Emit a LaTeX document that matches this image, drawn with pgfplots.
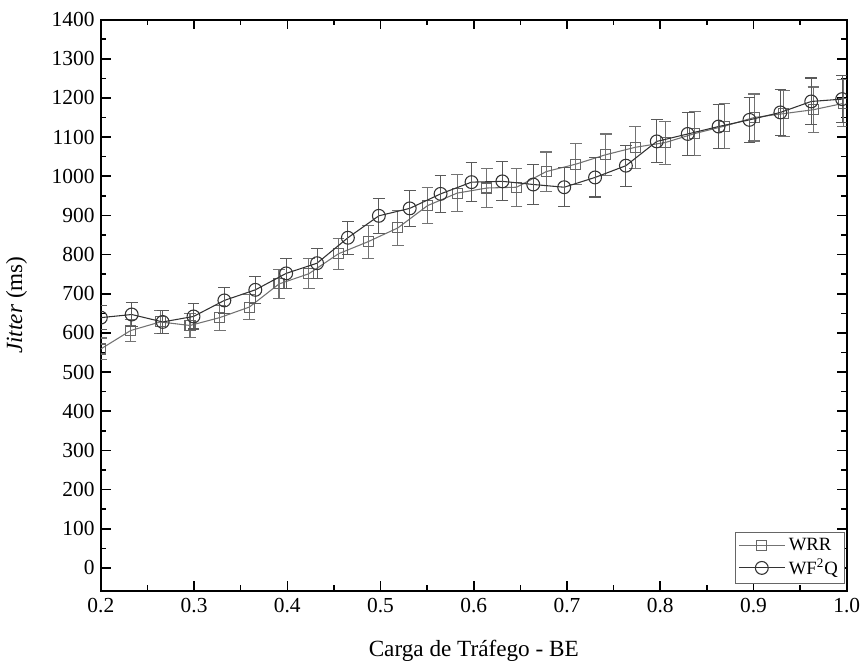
\documentclass[border=0pt]{standalone}
\usepackage{fontspec}
\setmainfont{Liberation Serif}
\usepackage{pgfplots}
\pgfplotsset{compat=1.18}
\usepackage{pgfplotstable}

% WRR: x, jitter, half error
\pgfplotstableread{
x y e
0.2000 559 28
0.2319 606 28
0.2637 628 30
0.2956 619 30
0.3274 639 32
0.3593 666 32
0.3911 725 36
0.4230 751 38
0.4548 802 40
0.4867 833 42
0.5185 868 44
0.5504 925 46
0.5822 957 48
0.6141 970 49
0.6459 972 49
0.6778 1012 50
0.7096 1031 52
0.7415 1055 53
0.7733 1074 54
0.8052 1086 55
0.8370 1109 56
0.8689 1128 57
0.9007 1150 60
0.9326 1160 58
0.9644 1170 58
0.9963 1186 60
}\wrr

% WF2Q
\pgfplotstableread{
x y e
0.2000 639 30
0.2331 647 30
0.2663 628 30
0.2994 642 32
0.3325 683 33
0.3657 710 35
0.3988 752 38
0.4319 778 38
0.4650 843 42
0.4982 899 45
0.5313 918 46
0.5644 955 48
0.5976 985 50
0.6307 987 50
0.6638 979 50
0.6970 972 50
0.7301 997 50
0.7632 1027 52
0.7963 1089 55
0.8295 1108 55
0.8626 1127 57
0.8957 1144 57
0.9289 1163 58
0.9620 1191 60
0.9951 1197 60
}\wfq

\begin{document}
\begin{tikzpicture}
\begin{axis}[
  scale only axis,
  width=418pt, height=320pt,
  xmin=0.2, xmax=1.0,
  ymin=-58, ymax=1400,
  xtick={0.2,0.3,...,1.0},
  xticklabels={0.2,0.3,0.4,0.5,0.6,0.7,0.8,0.9,1.0},
  ytick={0,100,...,1400},
  minor x tick num=1,
  minor y tick num=1,
  tick align=inside,
  major tick length=5.5pt,
  minor tick length=3pt,
  tick style={black, line width=0.9pt},
  axis line style={black, line width=1.1pt},
  /pgf/number format/assume math mode=true,
  /pgf/number format/1000 sep={},
  ticklabel style={font=\fontsize{12}{14}\selectfont},
  xticklabel style={yshift=-1pt},
  xlabel={Carga de Tráfego - BE},
  ylabel={\textit{Jitter} (ms)},
  label style={font=\fontsize{13}{15}\selectfont},
  xlabel style={yshift=-8pt},
  ylabel style={yshift=7pt},
  clip marker paths=true,
  legend style={at={(0.997,0.012)}, anchor=south east, draw=black!60,
    font=\fontsize{10.5}{12}\selectfont, inner sep=1.5pt, row sep=-1pt,
    cells={anchor=west}},
  legend cell align=left,
  legend image code/.code={%
    \draw[mark repeat=2, mark phase=2] plot coordinates {(0cm,0cm) (0.45cm,0cm) (0.9cm,0cm)};},
]
\addplot[black!55, line width=0.6pt,
  mark=square, mark size=2.8pt, mark options={fill=white, draw=black!60, solid},
  error bars/.cd, y dir=both, y explicit,
  error bar style={black!55, line width=0.6pt},
  error mark options={rotate=90, mark size=3.3pt, black!55, line width=0.6pt}]
  table[x=x, y=y, y error=e] {\wrr};
\addlegendentry{WRR}
\addplot[black!80, line width=0.6pt,
  mark=o, mark size=3.6pt, mark options={fill=white, draw=black!80, solid},
  error bars/.cd, y dir=both, y explicit,
  error bar style={black!65, line width=0.6pt},
  error mark options={rotate=90, mark size=3.3pt, black!65, line width=0.6pt}]
  table[x=x, y=y, y error=e] {\wfq};
\addlegendentry{WF\textsuperscript{2}Q}
\end{axis}
\path ([yshift=11pt]current axis.north);
\end{tikzpicture}
\end{document}
